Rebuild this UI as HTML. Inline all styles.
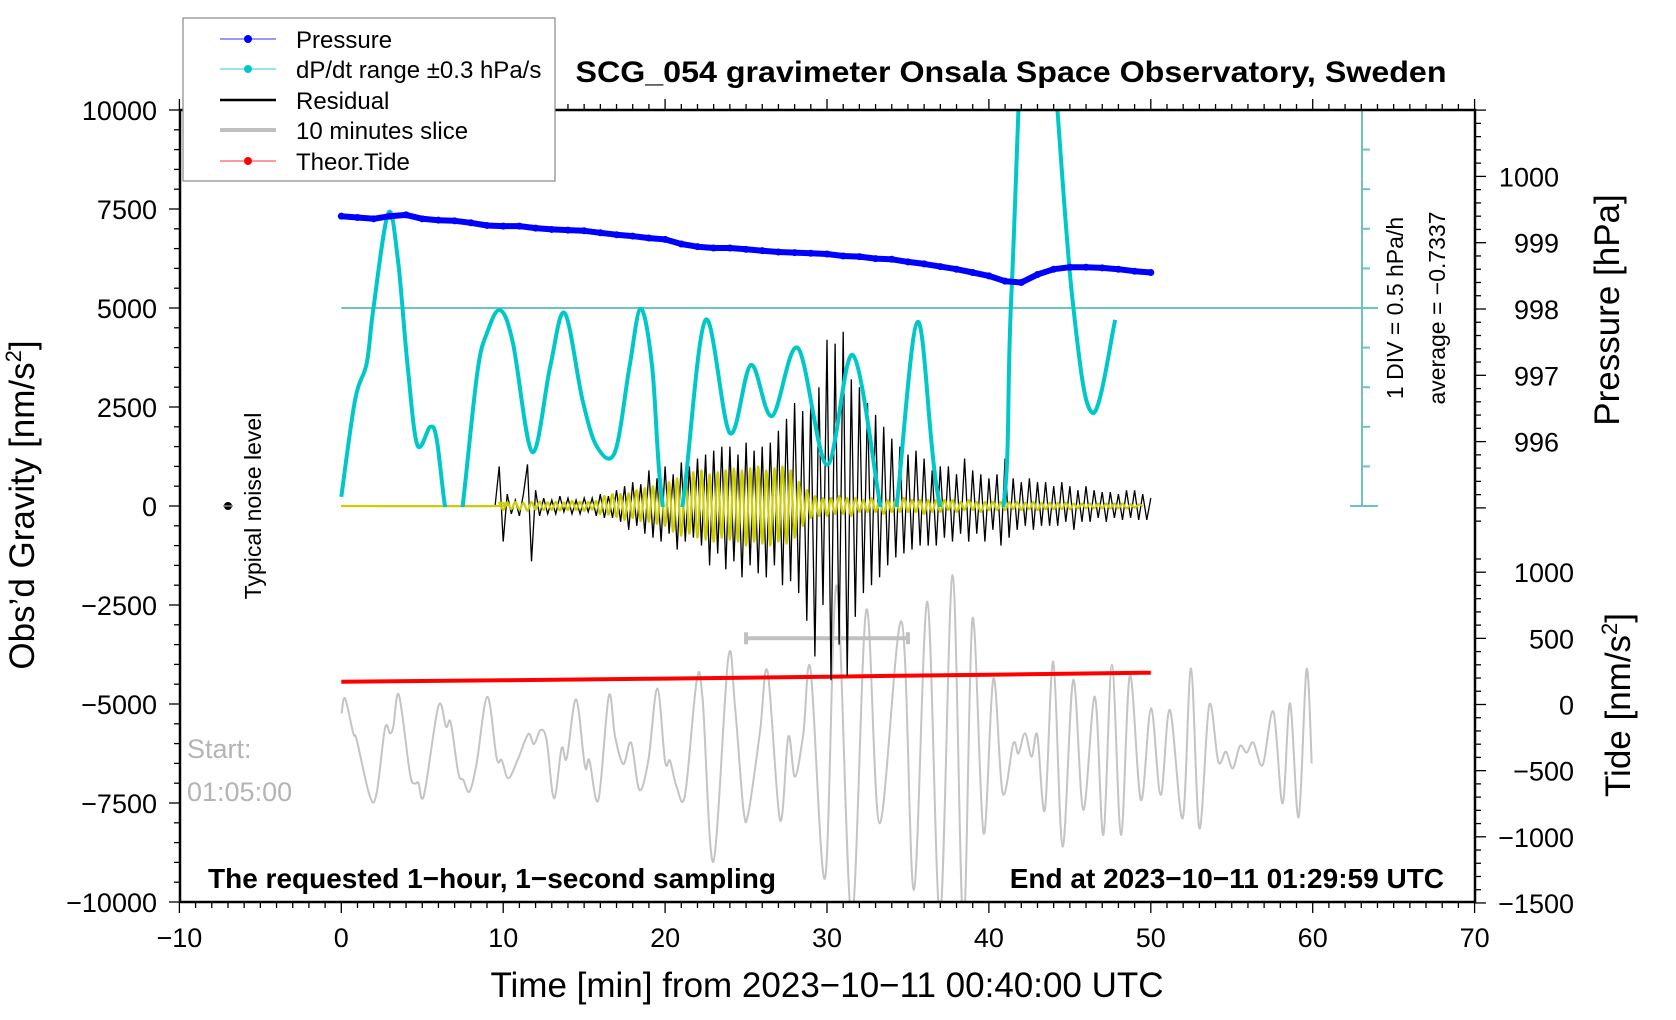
<!DOCTYPE html>
<html><head><meta charset="utf-8"><style>
html,body{margin:0;padding:0;background:#fff;}
svg{display:block;font-family:"Liberation Sans",Arial,sans-serif;}
</style></head><body>
<svg id="chart" width="1676" height="1020" viewBox="0 0 1676 1020" xmlns="http://www.w3.org/2000/svg">
<defs><clipPath id="plotclip"><rect x="180" y="110" width="1295" height="792"/></clipPath>
<clipPath id="cyanclip"><rect x="180" y="110" width="1295" height="397"/></clipPath></defs>
<g id="marks" clip-path="url(#plotclip)"></g>
<g id="axes"></g>
<text x="1011" y="82" text-anchor="middle" font-size="30" font-weight="bold" textLength="871" lengthAdjust="spacingAndGlyphs">SCG_054 gravimeter Onsala Space Observatory, Sweden</text>
<text transform="translate(34,505) rotate(-90)" text-anchor="middle" font-size="35">Obs’d Gravity [nm/s<tspan font-size="22" dy="-13">2</tspan><tspan dy="13">]</tspan></text>
<text transform="translate(1619,310) rotate(-90)" text-anchor="middle" font-size="35">Pressure [hPa]</text>
<text transform="translate(1630,705) rotate(-90)" text-anchor="middle" font-size="35">Tide [nm/s<tspan font-size="22" dy="-13">2</tspan><tspan dy="13">]</tspan></text>
<text x="827" y="997" text-anchor="middle" font-size="35">Time [min] from 2023−10−11 00:40:00 UTC</text>
<text x="208" y="888" font-size="28" font-weight="bold">The requested 1−hour, 1−second sampling</text>
<text x="1444" y="888" text-anchor="end" font-size="28" font-weight="bold">End at 2023−10−11 01:29:59 UTC</text>
<text x="187" y="758" font-size="27" fill="#b4b4b4">Start:</text>
<text x="187" y="801" font-size="27" fill="#b4b4b4">01:05:00</text>
<text transform="translate(261,506) rotate(-90)" text-anchor="middle" font-size="23">Typical noise level</text>
<text transform="translate(1403,308) rotate(-90)" text-anchor="middle" font-size="23">1 DIV = 0.5 hPa/h</text>
<text transform="translate(1445,308) rotate(-90)" text-anchor="middle" font-size="23">average = −0.7337</text>
<g>
<rect x="183" y="18" width="372" height="163" fill="#fff" stroke="#888" stroke-width="1.2"/>
<line x1="220" y1="39" x2="276" y2="39" stroke="#3333ff" stroke-width="1"/><circle cx="248" cy="39" r="4" fill="#0000ff"/>
<text x="296" y="48" font-size="24">Pressure</text>
<line x1="220" y1="69" x2="276" y2="69" stroke="#33cccc" stroke-width="1"/><circle cx="248" cy="69" r="4" fill="#00c8c8"/>
<text x="296" y="78" font-size="24">dP/dt range ±0.3 hPa/s</text>
<line x1="220" y1="100" x2="276" y2="100" stroke="#000" stroke-width="2.5"/>
<text x="296" y="109" font-size="24">Residual</text>
<line x1="220" y1="130" x2="276" y2="130" stroke="#c0c0c0" stroke-width="4"/>
<text x="296" y="139" font-size="24">10 minutes slice</text>
<line x1="220" y1="161" x2="276" y2="161" stroke="#ff3333" stroke-width="1"/><circle cx="248" cy="161" r="4" fill="#ff0000"/>
<text x="296" y="170" font-size="24">Theor.Tide</text>
</g>
</svg>
<script>
// ---- data ----
const pressureT = [0,1,2,3,4,5,6,7,8,9,10,11,12,13,14,15,16,17,18,19,20,21,22,23,24,25,26,27,28,29,30,31,32,33,34,35,36,37,38,39,40,41,42,43,44,45,46,47,48,49,50];
const pressureV = [999.40,999.38,999.36,999.40,999.42,999.36,999.34,999.33,999.30,999.26,999.25,999.25,999.22,999.20,999.19,999.18,999.15,999.12,999.10,999.07,999.05,998.98,998.94,998.92,998.92,998.90,998.88,998.86,998.85,998.84,998.83,998.80,998.79,998.76,998.75,998.71,998.68,998.64,998.60,998.55,998.50,998.42,998.40,998.52,998.60,998.63,998.63,998.62,998.60,998.57,998.55];
const dpdtT = [0,0.85,1.57,1.97,2.9,3.5,4.1,4.7,5.5,5.9,6.4,7.0,7.5,8.4,9.0,9.8,10.6,11.8,12.9,13.8,14.9,15.8,16.9,17.8,18.5,19.2,19.7,20.5,21.2,22.5,24.0,25.3,26.6,28.2,30.0,31.6,33.3,33.8,34.3,35.6,36.8,38.8,40.9,41.4,42.8,45.1,46.4,47.8];
const dpdtV = [230,2680,3600,4950,7400,6200,3520,1540,2000,1670,0,-1500,0,3360,4370,4950,4120,1360,3520,4870,2680,1490,1360,3520,4980,3520,580,-1500,400,4700,1840,3560,2270,3990,1040,3810,0,-800,0,4650,400,-3000,0,5450,16000,5450,2350,4700];
const residStart = 9.5, residStep = 0.25;
const residV = [0,1000,-900,300,-200,150,-250,300,1050,-1400,400,-250,200,-200,150,-200,250,-150,200,-200,150,-200,200,-150,200,-250,300,-300,250,-300,400,-400,500,-600,600,-500,550,-700,900,-800,700,-900,1000,-700,800,-1100,1100,-900,1000,-800,1200,-1000,1300,-1500,1400,-1200,1500,-1600,1500,-1400,1300,-1800,1600,-1500,1400,-1700,1500,-1800,1600,-1500,1900,-2000,2200,-1900,2600,-2200,2400,-2900,2700,-3800,3000,-2500,4200,-4400,4100,-3500,4400,-4300,3200,-2800,3000,-2200,2600,-2000,2300,-1800,2000,-1500,1700,-1300,1500,-1200,1300,-1100,1400,-1000,1200,-1000,900,-1000,1000,-800,1000,-900,800,-700,1200,-900,900,-700,800,-900,700,-600,800,-1000,1200,-800,700,-600,600,-500,700,-600,600,-500,600,-500,500,-500,600,-400,500,-600,400,-400,500,-400,400,-300,350,-400,350,-300,300,-350,400,-300,400,-350,300,-350,200];
const filtStart = 9.5, filtStep = 0.25;
const filtV = [0,80,-100,90,-80,100,-90,80,-120,100,-90,110,-100,90,-100,100,-110,90,-100,120,-100,110,-120,100,-90,120,-200,250,-220,300,-280,300,-350,320,-300,400,-380,450,-400,500,-450,480,-500,600,-650,700,-750,800,-700,850,-800,900,-850,800,-900,850,-800,900,-850,950,-900,900,-1000,950,-900,1000,-950,900,-1000,950,-900,1000,-950,900,-800,600,-500,400,-300,250,-250,200,-250,200,-200,250,-200,200,-250,200,-150,150,-150,200,-150,150,-200,150,-150,150,-150,200,-150,150,-150,150,-200,150,-150,150,-150,150,-100,150,-150,100,-100,150,-100,100,-150,100,-100,100,-100,100,-100,100,-80,100,-100,80,-80,100,-100,80,-80,80,-80,80,-80,80,-80,60,-60,60,-60,60,-60,60,-60,60,-60,60,-60,60,-60,40,-40,40,0];
const sliceT = [0.02,0.23,0.74,0.95,1.77,2.18,2.70,3.01,3.21,3.56,4.24,4.55,4.76,5.11,6.0,6.47,6.76,7.23,7.54,7.91,8.36,9.02,9.60,9.91,10.32,10.93,11.55,11.90,12.31,12.68,13.14,13.61,13.92,14.50,15.05,15.32,15.88,16.52,16.91,17.42,17.90,18.41,18.97,19.52,20.0,20.30,20.71,21.23,21.95,22.32,22.98,23.90,24.32,24.83,25.14,25.86,26.33,27.10,27.61,28.02,28.54,28.99,29.88,30.6,31.52,32.43,33.25,34.61,35.37,36.2,36.98,37.76,38.42,38.99,39.67,40.28,40.85,41.51,41.82,42.23,42.64,42.99,43.46,43.98,44.55,45.21,45.83,46.55,47.07,47.60,48.16,48.71,49.39,50.01,50.61,51.18,51.97,52.48,53.0,53.61,54.17,54.64,55.06,55.51,55.92,56.33,56.91,57.57,58.14,58.60,59.13,59.62,59.94];
const sliceV = [-67,47,-218,-268,-697,-671,-180,-218,-168,72,-520,-596,-591,-684,-11,-168,-137,-520,-571,-659,-445,59,-407,-420,-558,-407,-223,-299,-193,-268,-709,-331,-407,39,-470,-420,-722,64,-243,-450,-289,-646,-420,122,-432,-425,-621,-684,180,34,-1188,349,-17,-785,-823,-206,248,-873,-243,-546,-218,261,-1314,900,-1616,714,-898,626,-1402,777,-1604,979,-1680,651,-974,198,-671,-294,-370,-218,-395,-230,-797,324,-1075,185,-797,59,-986,299,-986,223,-722,-29,-684,-41,-860,273,-936,-4,-432,-357,-483,-313,-364,-288,-457,-54,-747,9,-853,266,-445];
const tideT = [0,10,20,30,40,50];
const tideV = [172,183,196,210,225,240];
const sliceWindow = [25,35];
const sliceWindowLevel = -3340;
const noiseT = -7, noiseV = 0;
const dpdtRefLevel = 5000;
const xTicks = [-10,0,10,20,30,40,50,60,70];
const yTicks = [10000,7500,5000,2500,0,-2500,-5000,-7500,-10000];
const pTicks = [1000,999,998,997,996];
const tideTicks = [1000,500,0,-500,-1000,-1500];

// ---- axis functions ----
const X = t => 341.3 + 16.19*t;
const Y = g => 506 - 0.0396*g;
const YP = p => 309 - 66.3*(p-998);
const YT = v => 704.5 - 0.1323*v;
const NS = 'http://www.w3.org/2000/svg';
const marks = document.getElementById('marks');
const axes = document.getElementById('axes');
function mk(tag, parent, attrs){ const e=document.createElementNS(NS,tag); for(const k in attrs) e.setAttribute(k,attrs[k]); parent.appendChild(e); return e; }
function smooth(pts){
  let d='M'+pts[0][0].toFixed(1)+','+pts[0][1].toFixed(1);
  for(let i=0;i<pts.length-1;i++){
    const p0=pts[Math.max(0,i-1)],p1=pts[i],p2=pts[i+1],p3=pts[Math.min(pts.length-1,i+2)];
    const c1=[p1[0]+(p2[0]-p0[0])/6,p1[1]+(p2[1]-p0[1])/6], c2=[p2[0]-(p3[0]-p1[0])/6,p2[1]-(p3[1]-p1[1])/6];
    d+=' C'+c1[0].toFixed(1)+','+c1[1].toFixed(1)+' '+c2[0].toFixed(1)+','+c2[1].toFixed(1)+' '+p2[0].toFixed(1)+','+p2[1].toFixed(1);
  }
  return d;
}
function poly(pts){ return 'M'+pts.map(p=>p[0].toFixed(1)+','+p[1].toFixed(1)).join(' L'); }

// gray slice
let el = mk('path', marks, {d: smooth(sliceT.map((t,i)=>[X(t),YT(sliceV[i])])), fill:'none', stroke:'#c4c4c4', 'stroke-width':2});



// tide
el = mk('path', marks, {d: poly(tideT.map((t,i)=>[X(t),YT(tideV[i])])), fill:'none', stroke:'#ff0000', 'stroke-width':4});



// slice window bar
const sg = mk('g', marks, {});


mk('line', sg, {x1:X(sliceWindow[0]),x2:X(sliceWindow[1]),y1:Y(sliceWindowLevel),y2:Y(sliceWindowLevel),stroke:'#c0c0c0','stroke-width':4});
mk('line', sg, {x1:X(sliceWindow[0]),x2:X(sliceWindow[0]),y1:Y(sliceWindowLevel)-6,y2:Y(sliceWindowLevel)+6,stroke:'#c0c0c0','stroke-width':4});
mk('line', sg, {x1:X(sliceWindow[1]),x2:X(sliceWindow[1]),y1:Y(sliceWindowLevel)-6,y2:Y(sliceWindowLevel)+6,stroke:'#c0c0c0','stroke-width':4});

// dP/dt reference line
el = mk('line', marks, {x1:X(0), x2:1378, y1:Y(dpdtRefLevel), y2:Y(dpdtRefLevel), stroke:'#6cc4c0','stroke-width':2});



// cyan scale bar
const sb = mk('g', marks, {});


mk('line', sb, {x1:1362,x2:1362,y1:Y(10000),y2:Y(0),stroke:'#6cc4c0','stroke-width':2});
for(let g=0; g<=10000; g+=1000){
  const long = (g===0||g===5000||g===10000);
  mk('line', sb, {x1: long?1350:1362, x2: long?1378:1370, y1:Y(g), y2:Y(g), stroke:'#6cc4c0','stroke-width':2});
}

// residual
const rpts = residV.map((v,i)=>[X(residStart+i*residStep), Y(v)]);
rpts.unshift([X(0),Y(0)]);
el = mk('path', marks, {d: poly(rpts), fill:'none', stroke:'#000', 'stroke-width':1.3});



// filtered yellow
const fpts = filtV.map((v,i)=>[X(filtStart+i*filtStep), Y(v)]);
fpts.unshift([X(0),Y(0)]);
el = mk('path', marks, {d: smooth(fpts), fill:'none', stroke:'#cccc00', 'stroke-width':2.2});



// dP/dt cyan
el = mk('path', marks, {d: smooth(dpdtT.map((t,i)=>[X(t),Y(dpdtV[i])])), fill:'none', stroke:'#00c8c8', 'stroke-width':4, 'clip-path':'url(#cyanclip)'});



// pressure
const pg = mk('g', marks, {});


mk('path', pg, {d: poly(pressureT.map((t,i)=>[X(t),YP(pressureV[i])])), fill:'none', stroke:'#0000ff', 'stroke-width':6, 'stroke-linejoin':'round','stroke-linecap':'round'});
pressureT.forEach((t,i)=>{ mk('circle', pg, {cx:X(t), cy:YP(pressureV[i]), r:3.5, fill:'#0000ff'}); });

// noise dot
el = mk('circle', marks, {cx:X(noiseT), cy:Y(noiseV), r:4, fill:'#000'});


mk('line', marks, {x1:X(noiseT)-5,x2:X(noiseT)+5,y1:Y(noiseV),y2:Y(noiseV),stroke:'#888','stroke-width':1.5});

// ---- axes ----
el = mk('rect', axes, {x:180,y:110,width:1295,height:792,fill:'none',stroke:'#000','stroke-width':2.5});


for(let t=-10;t<=70;t++){
  const maj = t%10===0;
  mk('line', axes, {x1:X(t),x2:X(t),y1:902,y2:902+(maj?11:6),stroke:'#000','stroke-width':1.3});
  mk('line', axes, {x1:X(t),x2:X(t),y1:110,y2:110-(maj?11:6),stroke:'#000','stroke-width':1.3});
}
xTicks.forEach(t=>{
  el = mk('text', axes, {x:X(t), y:947, 'text-anchor':'middle','font-size':27});
  el.textContent = String(t).replace('-','−');
  
  
});
for(let g=-10000; g<=10000; g+=500){
  const maj = g%2500===0;
  mk('line', axes, {x1:180-(maj?11:6),x2:180,y1:Y(g),y2:Y(g),stroke:'#000','stroke-width':1.3});
}
yTicks.forEach(g=>{
  el = mk('text', axes, {x:157, y:Y(g)+10, 'text-anchor':'end','font-size':27});
  el.textContent = String(g).replace('-','−');
  
  
});
for(let p=1001.0; p>=994.7; p-=0.2){
  const maj = Math.abs(p-Math.round(p))<0.01;
  mk('line', axes, {x1:1475,x2:1475+(maj?11:6),y1:YP(p),y2:YP(p),stroke:'#000','stroke-width':1.3});
}
pTicks.forEach(p=>{
  el = mk('text', axes, {x:1559, y:YP(p)+10, 'text-anchor':'end','font-size':27});
  el.textContent = String(p);
  
  
});
for(let v=-1500; v<=1100; v+=100){
  const maj = v%500===0;
  mk('line', axes, {x1:1475,x2:1475+(maj?11:6),y1:YT(v),y2:YT(v),stroke:'#000','stroke-width':1.3});
}
tideTicks.forEach(v=>{
  el = mk('text', axes, {x:1574, y:YT(v)+10, 'text-anchor':'end','font-size':27});
  el.textContent = String(v).replace('-','−');
  
  
});
</script>
</body></html>
